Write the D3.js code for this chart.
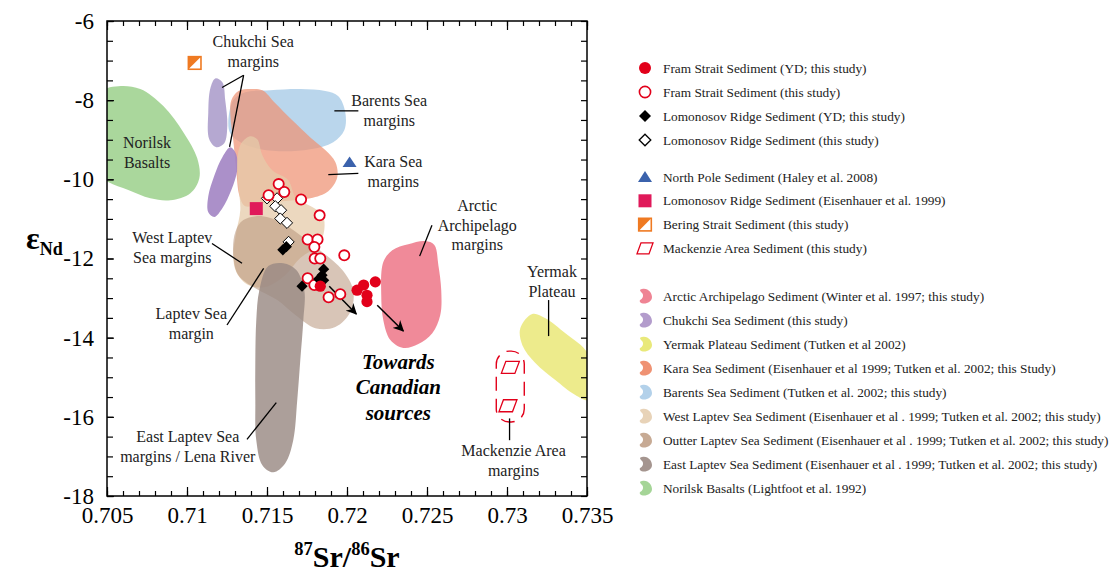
<!DOCTYPE html>
<html><head><meta charset="utf-8">
<script src="https://cdn.jsdelivr.net/npm/d3@7"></script>
<style>
body{margin:0;background:#fff;}
svg{display:block;font-family:"Liberation Serif","Times New Roman","DejaVu Serif",serif;}
</style></head><body>
<svg id="chart" width="1112" height="575"></svg>
<script>
// ---------------- DATA ----------------
const xMajorTicks = [0.705, 0.71, 0.715, 0.72, 0.725, 0.73, 0.735];
const xTickLabels = ["0.705", "0.71", "0.715", "0.72", "0.725", "0.73", "0.735"];
const yMajorTicks = [-6, -8, -10, -12, -14, -16, -18];
const yTickLabels = ["-6", "-8", "-10", "-12", "-14", "-16", "-18"];

// Fram Strait Sediment (YD; this study) [87Sr/86Sr, eNd]
const framYD = [[0.71833,-12.70],[0.72063,-12.80],[0.72104,-12.67],[0.72177,-12.59],[0.72125,-12.93],[0.72125,-13.09]];
// Fram Strait Sediment (this study)
const framOpen = [[0.71573,-10.12],[0.71608,-10.32],[0.71510,-10.40],[0.71713,-10.51],[0.71829,-10.91],
  [0.71754,-11.52],[0.71816,-11.52],[0.71796,-11.71],[0.71983,-11.92],[0.71798,-12.00],[0.71833,-12.00],
  [0.71754,-12.50],[0.71796,-12.67],[0.71885,-12.98],[0.71958,-12.90]];
// Lomonosov Ridge Sediment (YD; this study)
const lomoYD = [[0.71599,-11.78],[0.71621,-11.70],[0.71854,-12.27],[0.71844,-12.42],[0.71823,-12.52],[0.71854,-12.55],[0.71719,-12.70]];
// Lomonosov Ridge Sediment (this study)
const lomoOpen = [[0.71500,-10.48],[0.71563,-10.48],[0.71552,-10.68],[0.71588,-10.78],[0.71583,-10.99],[0.71625,-11.10],[0.71635,-11.58]];
const northPole = [[0.72016,-9.56]];
const lomoEisen = [[0.71433,-10.74]];
const beringStrait = [[0.71048,-7.06]];
const mackenzie = [[0.73021,-14.75],[0.73006,-15.72]];
const mackenzieEnvelope = [[0.72933,-14.34],[0.73108,-16.13]];

// Source-region outlines (data coordinates)
const norilskOutline = [[0.70458,-7.80],[0.70571,-7.65],[0.70708,-7.72],[0.70852,-8.15],[0.70977,-8.81],[0.71064,-9.47],
  [0.71077,-9.97],[0.71021,-10.35],[0.70896,-10.53],[0.70771,-10.48],[0.70633,-10.27],[0.70508,-10.07],[0.70427,-9.77],[0.70408,-8.76]];
const barentsOutline = [[0.71258,-8.58],[0.71289,-8.00],[0.71364,-7.80],[0.71521,-7.75],[0.71708,-7.72],[0.71864,-7.77],
  [0.71946,-7.90],[0.71989,-8.30],[0.71983,-8.76],[0.71914,-9.06],[0.71771,-9.24],[0.71614,-9.29],[0.71458,-9.24],[0.71333,-9.06],[0.71271,-8.84]];
const karaOutline = [[0.71277,-8.00],[0.71321,-7.77],[0.71396,-7.72],[0.71471,-7.75],[0.71552,-8.08],[0.71658,-8.51],
  [0.71771,-8.94],[0.71864,-9.26],[0.71927,-9.56],[0.71939,-9.95],[0.71883,-10.30],[0.71771,-10.48],[0.71614,-10.55],
  [0.71471,-10.60],[0.71364,-10.68],[0.71327,-10.40],[0.71308,-9.77],[0.71289,-9.01],[0.71271,-8.38]];
const chukchiUpperOutline = [[0.71177,-7.45],[0.71221,-7.55],[0.71239,-8.00],[0.71252,-8.63],[0.71233,-9.09],[0.71183,-9.19],[0.71139,-8.99],[0.71133,-8.30],[0.71146,-7.70]];
const chukchiLowerOutline = [[0.71271,-9.19],[0.71308,-9.37],[0.71314,-9.77],[0.71277,-10.27],[0.71221,-10.73],[0.71171,-10.95],[0.71133,-10.83],[0.71133,-10.43],[0.71171,-9.90],[0.71221,-9.44]];
const westLaptevOutline = [[0.71396,-8.91],[0.71439,-8.99],[0.71471,-9.39],[0.71533,-9.77],[0.71633,-10.02],[0.71683,-10.48],
  [0.71783,-10.70],[0.71846,-10.88],[0.71858,-11.28],[0.71821,-11.66],[0.71708,-11.99],[0.71614,-12.42],[0.71489,-12.72],
  [0.71383,-12.67],[0.71308,-12.34],[0.71289,-11.92],[0.71308,-11.33],[0.71333,-10.78],[0.71321,-10.15],[0.71314,-9.51],[0.71339,-9.09]];
const outerLaptevOutline = [[0.71352,-11.03],[0.71471,-10.93],[0.71583,-11.08],[0.71708,-11.41],[0.71846,-11.84],[0.71971,-12.29],
  [0.72039,-12.80],[0.72021,-13.35],[0.71927,-13.73],[0.71802,-13.76],[0.71677,-13.43],[0.71564,-13.05],[0.71427,-12.75],
  [0.71321,-12.42],[0.71289,-11.92],[0.71302,-11.33]];
const eastLaptevOutline = [[0.71508,-12.19],[0.71602,-12.12],[0.71683,-12.29],[0.71733,-12.80],[0.71727,-13.56],[0.71708,-14.57],
  [0.71689,-15.58],[0.71664,-16.59],[0.71614,-17.17],[0.71539,-17.40],[0.71471,-17.22],[0.71433,-16.59],[0.71427,-15.58],
  [0.71427,-14.57],[0.71433,-13.56],[0.71452,-12.80]];
const arcticOutline = [[0.72227,-12.09],[0.72283,-11.79],[0.72383,-11.64],[0.72489,-11.56],[0.72546,-11.66],[0.72571,-12.17],
  [0.72589,-12.80],[0.72583,-13.43],[0.72533,-13.89],[0.72446,-14.16],[0.72352,-14.26],[0.72271,-14.06],[0.72227,-13.56],[0.72214,-12.93]];
const yermakOutline = [[0.73158,-13.40],[0.73240,-13.51],[0.73365,-13.89],[0.73490,-14.31],[0.73552,-14.82],[0.73558,-15.32],
  [0.73508,-15.58],[0.73427,-15.45],[0.73302,-15.07],[0.73177,-14.64],[0.73096,-14.19],[0.73083,-13.76]];

// Annotations: text lines, anchor [x, y] (first baseline centre), leader lines
const regionLabels = [
  {lines:["Chukchi Sea","margins"], at:[0.71414,-6.66], leaders:[[[0.71354,-7.37],[0.71219,-7.68]],[[0.71354,-7.37],[0.71266,-9.18]]]},
  {lines:["Norilsk","Basalts"], at:[0.70750,-9.21], leaders:[]},
  {lines:["Barents Sea","margins"], at:[0.72264,-8.15], leaders:[[[0.71921,-8.27],[0.72071,-8.27]]]},
  {lines:["Kara Sea","margins"], at:[0.72289,-9.69], leaders:[[[0.71883,-9.88],[0.72071,-9.85]]]},
  {lines:["Arctic","Archipelago","margins"], at:[0.72814,-10.80], leaders:[[[0.72531,-11.16],[0.72454,-11.94]]]},
  {lines:["Yermak","Plateau"], at:[0.73281,-12.47], leaders:[[[0.73260,-13.05],[0.73260,-13.96]]]},
  {lines:["Mackenzie Area","margins"], at:[0.73041,-16.99], leaders:[[[0.73016,-16.04],[0.73016,-16.59]]]},
  {lines:["West Laptev","Sea margins"], at:[0.70908,-11.61], leaders:[[[0.71156,-11.62],[0.71344,-12.12]]]},
  {lines:["Laptev Sea","margin"], at:[0.71027,-13.53], leaders:[[[0.71250,-13.68],[0.71479,-12.25]]]},
  {lines:["East Laptev Sea","margins / Lena River"], at:[0.71005,-16.64], leaders:[[[0.71375,-16.57],[0.71558,-15.64]]]}
];
const towardsLines = ["Towards","Canadian","sources"];
const towardsAt = [0.72321,-14.79];
const arrows = [[[0.71889,-12.70],[0.72058,-13.40]],[[0.72189,-13.18],[0.72352,-13.83]]];

const legendPoints = ["Fram Strait Sediment (YD; this study)","Fram Strait Sediment (this study)",
  "Lomonosov Ridge Sediment (YD; this study)","Lomonosov Ridge Sediment (this study)"];
const legendRefs = ["North Pole Sediment (Haley et al. 2008)","Lomonosov Ridge Sediment (Eisenhauer et al. 1999)",
  "Bering Strait Sediment (this study)","Mackenzie Area Sediment (this study)"];
const legendRegions = ["Arctic Archipelago Sediment (Winter et al. 1997; this study)","Chukchi Sea Sediment (this study)",
  "Yermak Plateau Sediment (Tutken et al 2002)","Kara Sea Sediment (Eisenhauer et al 1999; Tutken et al. 2002; this Study)",
  "Barents Sea Sediment (Tutken et al. 2002; this study)",
  "West Laptev Sea Sediment (Eisenhauer et al . 1999; Tutken et al. 2002; this study)",
  "Outter Laptev Sea Sediment (Eisenhauer et al . 1999; Tutken et al. 2002; this study)",
  "East Laptev Sea Sediment (Eisenhauer et al . 1999; Tutken et al. 2002; this study)",
  "Norilsk Basalts (Lightfoot et al. 1992)"];

// ---------------- CHART ----------------
const FONT = "Liberation Serif, Times New Roman, DejaVu Serif, serif";
const C = {red:"#e2001a", blue:"#3b62ac", crimson:"#e0195a", orange:"#ef7a22",
  norilsk:"#a5d597", barents:"#b3d1ea", kara:"#ef9273", chukU:"#ad9fcc", chukL:"#a284c3",
  westL:"#e6cbaa", outerL:"#b8957b", eastL:"#9a8a84", arctic:"#ef8494", yermak:"#ecea86"};

const svg = d3.select("#chart");
const M = {left:107, top:21, right:587, bottom:496};
const x = d3.scaleLinear().domain([0.705,0.735]).range([M.left,M.right]);
const y = d3.scaleLinear().domain([-18,-6]).range([M.bottom,M.top]);

svg.append("defs").append("clipPath").attr("id","plotclip")
  .append("rect").attr("x",M.left).attr("y",M.top).attr("width",M.right-M.left).attr("height",M.bottom-M.top);
svg.select("defs").append("marker").attr("id","arrowhead").attr("viewBox","0 0 10 10")
  .attr("refX",9).attr("refY",5).attr("markerWidth",11).attr("markerHeight",11).attr("markerUnits","userSpaceOnUse")
  .attr("orient","auto").append("path").attr("d","M0,0 L10,5 L0,10 L3,5 Z").attr("fill","#000");

const blob = d3.line().x(d=>x(d[0])).y(d=>y(d[1])).curve(d3.curveCatmullRomClosed.alpha(0.5));
const gRegions = svg.append("g").attr("clip-path","url(#plotclip)");
const regionDefs = [
  [norilskOutline, C.norilsk, 0.95],
  [barentsOutline, C.barents, 0.9],
  [karaOutline, C.kara, 0.72],
  [chukchiUpperOutline, C.chukU, 0.9],
  [chukchiLowerOutline, C.chukL, 0.9],
  [westLaptevOutline, C.westL, 0.75],
  [outerLaptevOutline, C.outerL, 0.55],
  [eastLaptevOutline, C.eastL, 0.82],
  [arcticOutline, C.arctic, 0.95],
  [yermakOutline, C.yermak, 0.95]
];
gRegions.selectAll("path.region").data(regionDefs).join("path").attr("class","region")
  .attr("d",d=>blob(d[0])).attr("fill",d=>d[1]).attr("fill-opacity",d=>d[2]);

// Mackenzie envelope (dashed)
gRegions.append("rect")
  .attr("x",x(mackenzieEnvelope[0][0])).attr("y",y(mackenzieEnvelope[0][1]))
  .attr("width",x(mackenzieEnvelope[1][0])-x(mackenzieEnvelope[0][0]))
  .attr("height",y(mackenzieEnvelope[1][1])-y(mackenzieEnvelope[0][1]))
  .attr("rx",13).attr("ry",13).attr("fill","none").attr("stroke",C.red).attr("stroke-width",1.4)
  .attr("stroke-dasharray","14,8").attr("stroke-dashoffset",4);

// Axes
const axisG = svg.append("g");
const xMinor = d3.range(0,31).map(i=>+(0.705+i*0.001).toFixed(3));
const yMinor = d3.range(0,25).map(i=>-18+i*0.5);
function styleAxis(g){ g.select(".domain").remove(); g.attr("font-family",FONT); g.selectAll("line").attr("stroke","#000").attr("stroke-width",1.2); }
axisG.append("g").attr("transform",`translate(0,${M.bottom})`).call(d3.axisBottom(x).tickValues(xMinor).tickSize(-5).tickFormat("")).call(styleAxis);
axisG.append("g").attr("transform",`translate(0,${M.bottom})`)
  .call(d3.axisBottom(x).tickValues(xMajorTicks).tickSize(-9).tickPadding(11).tickFormat((d,i)=>xTickLabels[i])).call(styleAxis)
  .selectAll("text").attr("font-size",23).attr("fill","#000");
axisG.append("g").attr("transform",`translate(0,${M.top})`).call(d3.axisTop(x).tickValues(xMinor).tickSize(-5).tickFormat("")).call(styleAxis);
axisG.append("g").attr("transform",`translate(0,${M.top})`).call(d3.axisTop(x).tickValues(xMajorTicks).tickSize(-9).tickFormat("")).call(styleAxis);
axisG.append("g").attr("transform",`translate(${M.left},0)`).call(d3.axisLeft(y).tickValues(yMinor).tickSize(-6).tickFormat("")).call(styleAxis);
axisG.append("g").attr("transform",`translate(${M.left},0)`)
  .call(d3.axisLeft(y).tickValues(yMajorTicks).tickSize(-7).tickPadding(13).tickFormat((d,i)=>yTickLabels[i])).call(styleAxis)
  .selectAll("text").attr("font-size",23).attr("fill","#000");
axisG.append("g").attr("transform",`translate(${M.right},0)`).call(d3.axisRight(y).tickValues(yMinor).tickSize(-6).tickFormat("")).call(styleAxis);
svg.append("rect").attr("x",M.left).attr("y",M.top).attr("width",M.right-M.left).attr("height",M.bottom-M.top)
  .attr("fill","none").attr("stroke","#000").attr("stroke-width",1.5);

// Axis titles
const xt = svg.append("text").attr("x",(M.left+M.right)/2).attr("y",567).attr("text-anchor","middle")
  .attr("font-weight","bold").attr("fill","#000");
xt.append("tspan").attr("font-size",18.5).attr("dy",-12).text("87");
xt.append("tspan").attr("font-size",30).attr("dy",12).text("Sr/");
xt.append("tspan").attr("font-size",18.5).attr("dy",-12).text("86");
xt.append("tspan").attr("font-size",30).attr("dy",12).text("Sr");
const yt = svg.append("text").attr("x",26).attr("y",249).attr("font-weight","bold").attr("fill","#000");
yt.append("tspan").attr("font-size",32).text("ε");
yt.append("tspan").attr("font-size",18).attr("dy",6).text("Nd");

// Region labels and leaders
const gAnn = svg.append("g");
regionLabels.forEach(r=>{
  const t = gAnn.append("text").attr("text-anchor","middle").attr("font-size",16).attr("fill","#222");
  r.lines.forEach((s,i)=>t.append("tspan").attr("x",x(r.at[0])).attr("y",y(r.at[1])+i*19.5).text(s));
  r.leaders.forEach(l=>gAnn.append("line").attr("x1",x(l[0][0])).attr("y1",y(l[0][1])).attr("x2",x(l[1][0])).attr("y2",y(l[1][1]))
    .attr("stroke","#000").attr("stroke-width",1.3));
});
const tt = gAnn.append("text").attr("text-anchor","middle").attr("font-size",21).attr("font-weight","bold").attr("font-style","italic").attr("fill","#000");
towardsLines.forEach((s,i)=>tt.append("tspan").attr("x",x(towardsAt[0])).attr("y",y(towardsAt[1])+i*25.5).text(s));

// Markers
const diamond = s => `M0,${-s}L${s},0L0,${s}L${-s},0Z`;
const para = (w,h) => `M${-w/2+w*0.25},${-h/2}L${w/2},${-h/2}L${w/2-w*0.25},${h/2}L${-w/2},${h/2}Z`;
const gPts = svg.append("g");
gPts.selectAll("path.lomoOpen").data(lomoOpen).join("path").attr("class","lomoOpen")
  .attr("transform",d=>`translate(${x(d[0])},${y(d[1])})`).attr("d",diamond(5.6)).attr("fill","#fff").attr("stroke","#000").attr("stroke-width",1);
gPts.selectAll("circle.framOpen").data(framOpen).join("circle").attr("class","framOpen")
  .attr("cx",d=>x(d[0])).attr("cy",d=>y(d[1])).attr("r",5.1).attr("fill","#fff").attr("stroke",C.red).attr("stroke-width",1.8);
gPts.selectAll("path.lomoYD").data(lomoYD).join("path").attr("class","lomoYD")
  .attr("transform",d=>`translate(${x(d[0])},${y(d[1])})`).attr("d",diamond(5.6)).attr("fill","#000");
gPts.selectAll("circle.framYD").data(framYD).join("circle").attr("class","framYD")
  .attr("cx",d=>x(d[0])).attr("cy",d=>y(d[1])).attr("r",5.6).attr("fill",C.red);
gPts.selectAll("path.np").data(northPole).join("path").attr("class","np")
  .attr("transform",d=>`translate(${x(d[0])},${y(d[1])})`).attr("d","M0,-5.5L7,5L-7,5Z").attr("fill",C.blue);
gPts.selectAll("rect.le").data(lomoEisen).join("rect").attr("class","le")
  .attr("x",d=>x(d[0])-6.5).attr("y",d=>y(d[1])-6.5).attr("width",13).attr("height",13).attr("fill",C.crimson);
function bering(g,s){
  g.append("rect").attr("x",-s).attr("y",-s).attr("width",2*s).attr("height",2*s).attr("fill","#fff").attr("stroke",C.orange).attr("stroke-width",1.6);
  g.append("path").attr("d",`M${-s},${-s}L${s},${-s}L${-s},${s}Z`).attr("fill",C.orange);
}
beringStrait.forEach(d=>bering(gPts.append("g").attr("transform",`translate(${x(d[0])},${y(d[1])})`),6.3));
gPts.selectAll("path.mk").data(mackenzie).join("path").attr("class","mk")
  .attr("transform",d=>`translate(${x(d[0])},${y(d[1])})`).attr("d",para(18,12)).attr("fill","#fff").attr("stroke",C.red).attr("stroke-width",1.3);

// Arrows
gAnn.selectAll("line.arrow").data(arrows).join("line").attr("class","arrow")
  .attr("x1",d=>x(d[0][0])).attr("y1",d=>y(d[0][1])).attr("x2",d=>x(d[1][0])).attr("y2",d=>y(d[1][1]))
  .attr("stroke","#000").attr("stroke-width",1.5).attr("marker-end","url(#arrowhead)");

// Legend
const gL = svg.append("g");
const LX = 645, TX = 663;
function legendRow(yy, label){
  gL.append("text").attr("x",TX).attr("y",yy+4.5).attr("font-size",13.3).attr("fill","#222").text(label);
  return gL.append("g").attr("transform",`translate(${LX},${yy})`);
}
const pointSyms = [
  g=>g.append("circle").attr("r",6).attr("fill",C.red),
  g=>g.append("circle").attr("r",5.6).attr("fill","#fff").attr("stroke",C.red).attr("stroke-width",1.6),
  g=>g.append("path").attr("d",diamond(6)).attr("fill","#000"),
  g=>g.append("path").attr("d",diamond(5.8)).attr("fill","#fff").attr("stroke","#000").attr("stroke-width",1.3)
];
legendPoints.forEach((s,i)=>pointSyms[i](legendRow(68+i*24,s)));
const refSyms = [
  g=>g.append("path").attr("d","M0,-6L7,5L-7,5Z").attr("fill",C.blue),
  g=>g.append("rect").attr("x",-6.5).attr("y",-6.5).attr("width",13).attr("height",13).attr("fill",C.crimson),
  g=>bering(g,6.3),
  g=>g.append("path").attr("d",para(16,11)).attr("fill","#fff").attr("stroke",C.red).attr("stroke-width",1.3)
];
legendRefs.forEach((s,i)=>refSyms[i](legendRow(177+i*23.8,s)));
const regionLegendColors = [C.arctic, "#b39ccc", "#e9e97a", C.kara, C.barents, "#e8d3b8", "#c7aa94", "#a5958f", C.norilsk];
const blobIcon = "M-3,-7C3,-8.5 7,-3 7,1C7,5 3,7.5 -1,7.5C-4,7.5 -6,6 -5,4C-2,3 -1,-1 -3,-3C-5,-5 -6,-6.5 -3,-7Z";
legendRegions.forEach((s,i)=>legendRow(296+i*24,s).append("path").attr("d",blobIcon).attr("fill",regionLegendColors[i]));
</script>
</body></html>
